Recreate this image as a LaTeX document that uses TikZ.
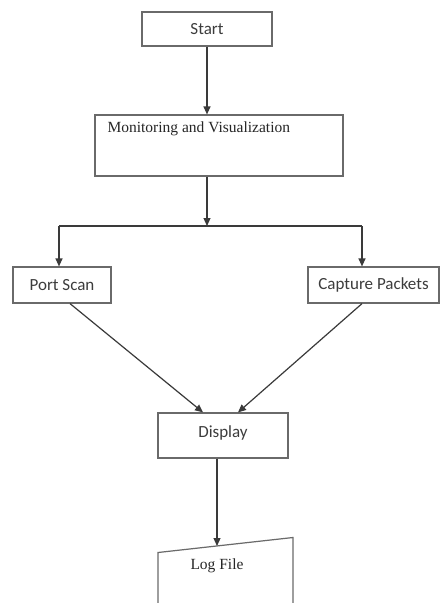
\documentclass[tikz,border=0pt]{standalone}
\usepackage{fontspec}
\setmainfont{Liberation Serif}
\newfontfamily\calibrifont{Carlito}
\usetikzlibrary{arrows.meta}
\definecolor{boxline}{HTML}{6A6A6A}
\definecolor{sanstext}{HTML}{3C3C3C}
\definecolor{linecol}{HTML}{3A3A3A}
\begin{document}
\begin{tikzpicture}[x=1pt,y=-1pt,
  box/.style={draw=boxline, line width=1.2pt, rectangle, inner sep=0pt},
  sansbox/.style={box, font=\calibrifont\fontsize{17}{20}\selectfont, text=sanstext},
  serif/.style={font=\fontsize{15.5}{18}\selectfont, text=black!85},
  conn/.style={draw=linecol, line width=1.2pt},
  arr/.style={conn, -{Triangle[length=8pt,width=7pt]}}]
\useasboundingbox (0,0) rectangle (440,603);
\fill[white] (0,0) rectangle (440,603);
% nodes
\node[sansbox, minimum width=130pt, minimum height=34pt] (start) at (207,29) {Start};
\node[box, minimum width=248pt, minimum height=61pt,
  label={[serif, anchor=north west, inner sep=0pt, xshift=13pt, yshift=-7.5pt]north west:Monitoring and Visualization}] (mon) at (219,145.5) {};
\node[sansbox, minimum width=98pt, minimum height=36pt] (ps) at (62,285) {Port Scan};
\node[sansbox, minimum width=131pt, minimum height=36pt] (cp) at (373.5,285) {Capture Packets};
\node[sansbox, minimum width=130pt, minimum height=45pt, text depth=8pt] (disp) at (223,435.5) {Display};
\coordinate (jc) at (207,226);
\coordinate (jl) at (59,226);
\coordinate (jr) at (362,226);
% log file (manual input shape)
\coordinate (logtl) at (158,552.5);
\coordinate (logtr) at (293,537.5);
\coordinate (logtop) at (217,546);
\draw[draw=boxline, line width=1.2pt] (158,603) -- (logtl) -- (logtr) -- (293,603);
\node[serif] (log) at (217,566) {Log File};
% connectors
\draw[arr] (start.south) -- (start.south |- mon.north);
\draw[arr] (start.south |- mon.south) -- (jc);
\draw[conn] (jl) -- (jr);
\draw[arr] (jl) -- (jl |- ps.north);
\draw[arr] (jr) -- (jr |- cp.north);
\draw[arr] ([xshift=8pt]ps.south) -- ([xshift=-20pt]disp.north);
\draw[arr] ([xshift=-11.5pt]cp.south) -- ([xshift=15pt]disp.north);
\draw[arr] ([xshift=-6pt]disp.south) -- (logtop);
\end{tikzpicture}
\end{document}
